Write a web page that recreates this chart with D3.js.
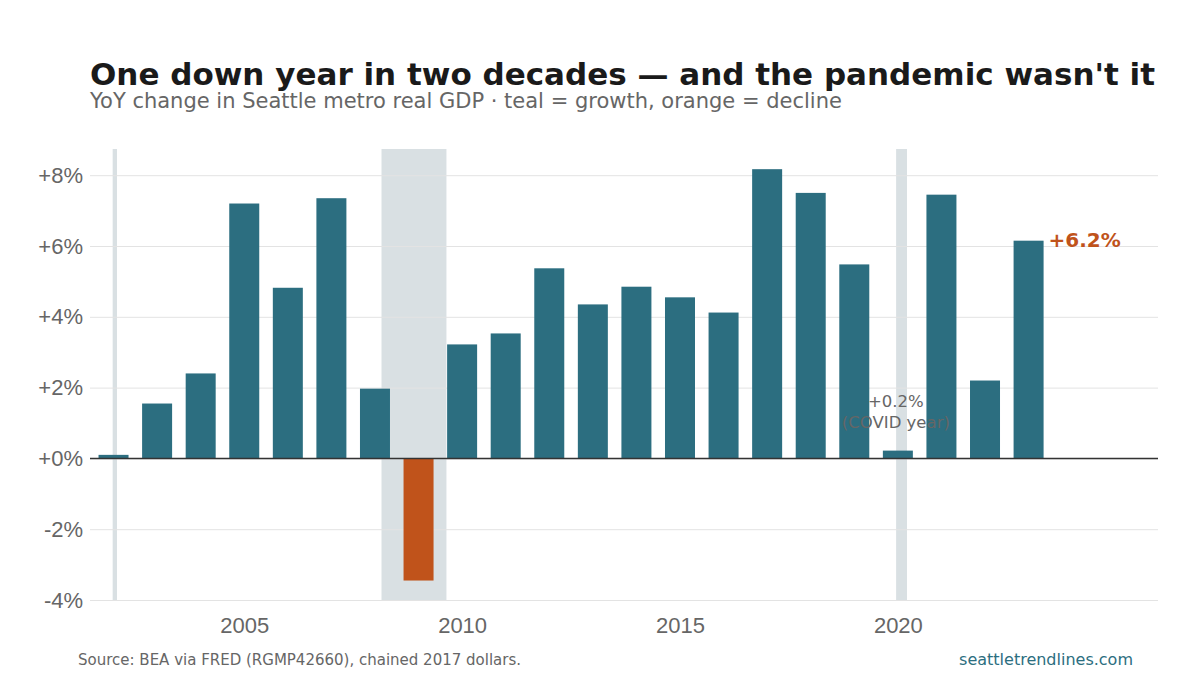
<!DOCTYPE html>
<html><head><meta charset="utf-8">
<script src="https://cdn.jsdelivr.net/npm/d3@7"></script>
<style>body{margin:0;background:#fff;font-family:"DejaVu Sans",sans-serif}</style>
</head><body><div id="chart"></div>
<script>
// data
var years = [2002,2003,2004,2005,2006,2007,2008,2009,2010,2011,2012,2013,2014,2015,2016,2017,2018,2019,2020,2021,2022,2023];
var growth = [0.1,1.55,2.4,7.2,4.82,7.35,1.97,-3.45,3.22,3.53,5.37,4.35,4.85,4.55,4.12,8.17,7.5,5.48,0.22,7.45,2.2,6.15];
var recessions = [[2001.98,2002.08],[2008.15,2009.64],[2019.96,2020.21]];
var yTicks = [-4,-2,0,2,4,6,8];
var xTicks = [2005,2010,2015,2020];

var W = 1200, H = 675;
var m = {top:149, right:42, bottom:75, left:90};
var svg = d3.select("#chart").append("svg").attr("width",W).attr("height",H);

var x = d3.scaleLinear().domain([2001.46,2025.97]).range([m.left, W-m.right]);
var y = d3.scaleLinear().domain([-4,8.74]).range([H-m.bottom, m.top]);

// recession shading
svg.append("g").selectAll("rect").data(recessions).enter().append("rect")
  .attr("x", d=>x(d[0])).attr("width", d=>x(d[1])-x(d[0]))
  .attr("y", m.top).attr("height", y(-4)-m.top)
  .attr("fill","#d9e0e3");

// gridlines + y labels
var yAxis = d3.axisLeft(y).tickValues(yTicks).tickSize(-(W-m.right-m.left))
  .tickFormat(d => (d>=0?"+":"") + d + "%");
var gy = svg.append("g").attr("transform",`translate(${m.left},0)`).call(yAxis);
gy.select(".domain").remove();
gy.selectAll("line").attr("stroke","#e3e3e3");
gy.selectAll("text").attr("fill","#666").style("font-size","22px").attr("x",-7);

var xAxis = d3.axisBottom(x).tickValues(xTicks).tickSize(0).tickFormat(d3.format("d"));
var gx = svg.append("g").attr("transform",`translate(0,${y(-4)+14})`).call(xAxis);
gx.select(".domain").remove();
gx.selectAll("text").attr("fill","#666").style("font-size","22px");

// bars
var bw = 30;
svg.append("g").selectAll("rect").data(years).enter().append("rect")
  .attr("x", (d)=>x(d)-bw/2).attr("width", bw)
  .attr("y", (d,i)=>y(Math.max(0,growth[i])))
  .attr("height", (d,i)=>Math.abs(y(growth[i])-y(0)))
  .attr("fill", (d,i)=>growth[i]<0 ? "#c0531b" : "#2c6e80");

// zero line
svg.append("line").attr("x1",m.left).attr("x2",W-m.right)
  .attr("y1",y(0)).attr("y2",y(0)).attr("stroke","#333").attr("stroke-width",1.5);

// annotations
var last = growth.length-1;
svg.append("text").attr("x", x(years[last])+20).attr("y", y(growth[last])+6)
  .attr("fill","#c0531b").style("font-size","20px").style("font-weight","bold")
  .text("+" + growth[last].toFixed(1) + "%");
var ci = years.indexOf(2020);
svg.append("text").attr("text-anchor","middle").attr("x", x(2020)-2).attr("y", 407)
  .attr("fill","#666").style("font-size","16.5px").text("+" + growth[ci].toFixed(1) + "%");
svg.append("text").attr("text-anchor","middle").attr("x", x(2020)-2).attr("y", 428)
  .attr("fill","#666").style("font-size","16.5px").text("(COVID year)");

// titles
svg.append("text").attr("x",90).attr("y",85).attr("fill","#1a1a1a")
  .style("font-size","31px").style("font-weight","bold")
  .text("One down year in two decades — and the pandemic wasn't it");
svg.append("text").attr("x",90).attr("y",108).attr("fill","#666").style("font-size","21px")
  .text("YoY change in Seattle metro real GDP · teal = growth, orange = decline");

// footer
svg.append("text").attr("x",78).attr("y",665).attr("fill","#666").style("font-size","15px")
  .text("Source: BEA via FRED (RGMP42660), chained 2017 dollars.");
svg.append("text").attr("x",1133).attr("y",665).attr("text-anchor","end").attr("fill","#2c6e80")
  .style("font-size","16px").text("seattletrendlines.com");
</script></body></html>
